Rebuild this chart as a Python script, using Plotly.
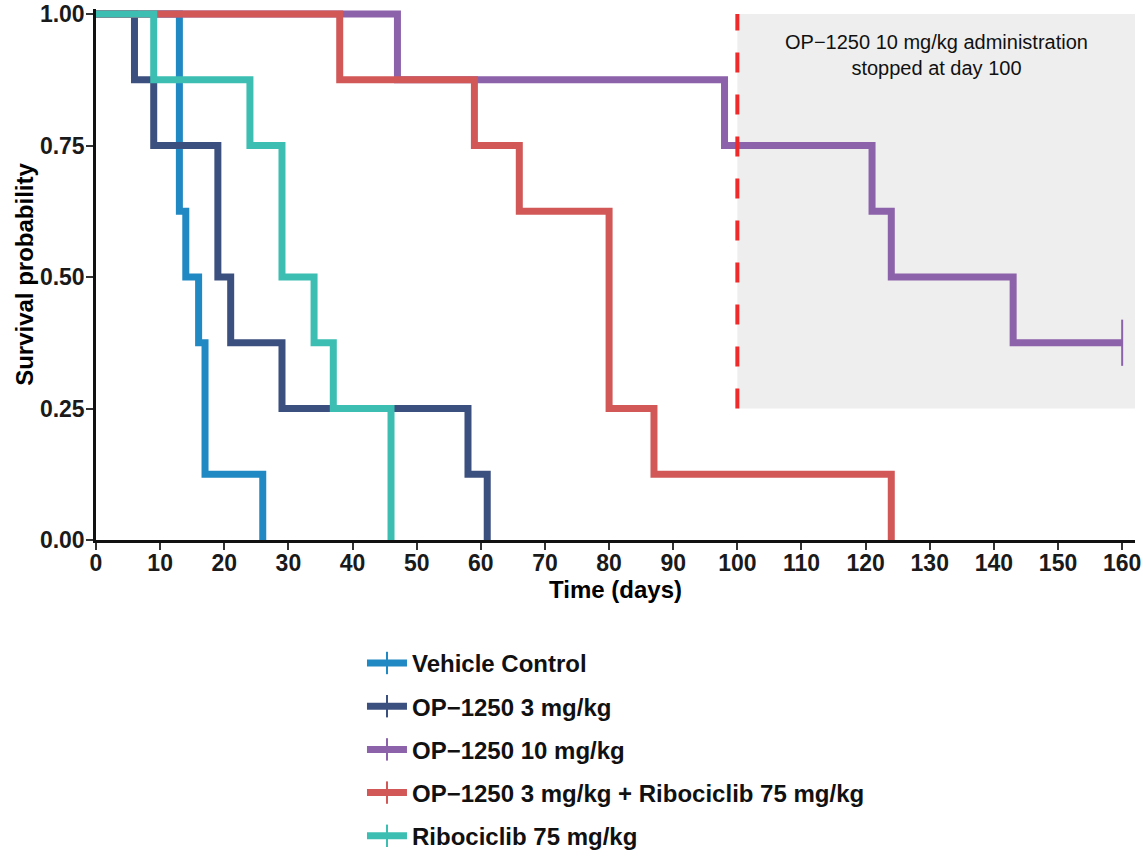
import plotly.graph_objects as go

# ---- data ----
group_names = [
    "Vehicle Control",
    "OP\u22121250 3 mg/kg",
    "OP\u22121250 10 mg/kg",
    "OP\u22121250 3 mg/kg + Ribociclib 75 mg/kg",
    "Ribociclib 75 mg/kg",
]
vehicle_days = [0, 13, 14, 16, 17, 26]
vehicle_surv = [1.0, 0.625, 0.5, 0.375, 0.125, 0.0]

op3_days = [0, 6, 9, 19, 21, 29, 58, 61]
op3_surv = [1.0, 0.875, 0.75, 0.5, 0.375, 0.25, 0.125, 0.0]

op10_days = [0, 47, 98, 121, 124, 143, 160]
op10_surv = [1.0, 0.875, 0.75, 0.625, 0.5, 0.375, 0.375]

combo_days = [0, 38, 59, 66, 80, 87, 124]
combo_surv = [1.0, 0.875, 0.75, 0.625, 0.25, 0.125, 0.0]

ribo_days = [0, 9, 24, 29, 34, 37, 46]
ribo_surv = [1.0, 0.875, 0.75, 0.5, 0.375, 0.25, 0.0]

# censored observations (tick marks)
op10_censor_days = [160]
op10_censor_surv = [0.375]

colors = ["#2088c2", "#3c507f", "#8c62aa", "#d25858", "#3cbfb2"]

stop_day = 100
x_ticks = list(range(0, 161, 10))
y_ticks = [0.0, 0.25, 0.5, 0.75, 1.0]
y_tick_text = ["0.00", "0.25", "0.50", "0.75", "1.00"]
note_text = "OP\u22121250 10 mg/kg administration<br>stopped at day 100"

series = [
    (vehicle_days, vehicle_surv),
    (op3_days, op3_surv),
    (op10_days, op10_surv),
    (combo_days, combo_surv),
    (ribo_days, ribo_surv),
]

FONT = "Liberation Sans, Arial, Helvetica, sans-serif"

fig = go.Figure()

for i, ((xs, ys), name, col) in enumerate(zip(series, group_names, colors)):
    fig.add_trace(go.Scatter(
        x=xs, y=ys, mode="lines", line=dict(color=col, width=7, shape="hv"),
        name=name, legendgroup=f"g{i}", showlegend=False, hoverinfo="x+y+name",
    ))

# censor marks
fig.add_trace(go.Scatter(
    x=op10_censor_days, y=op10_censor_surv, mode="markers",
    marker=dict(symbol="line-ns", size=33, color=colors[2],
                line=dict(color=colors[2], width=2)),
    showlegend=False, legendgroup="g2", cliponaxis=False,
))

# legend entries (line + censor tick)
for i, (name, col) in enumerate(zip(group_names, colors)):
    fig.add_trace(go.Scatter(
        x=[None], y=[None], mode="lines+markers", name=name,
        legendgroup=f"g{i}",
        line=dict(color=col, width=7),
        marker=dict(symbol="line-ns", size=16, color=col,
                    line=dict(color=col, width=2)),
    ))

# grey region and stop line
fig.add_shape(type="rect", xref="x", yref="y", x0=stop_day, x1=162, y0=0.25, y1=1.0,
              fillcolor="#eeeeee", line=dict(width=0), layer="below")
fig.add_shape(type="line", xref="x", yref="y", x0=stop_day, x1=stop_day, y0=0.25, y1=1.0,
              line=dict(color="#ee2a2a", width=4, dash="20px,22px"), layer="above")

fig.add_annotation(x=131, y=0.922, xref="x", yref="y", text=note_text, showarrow=False,
                   font=dict(family=FONT, size=20, color="#111111"), align="center")

fig.update_layout(
    width=1143, height=860,
    margin=dict(l=96, r=8, t=9, b=320, autoexpand=False),
    paper_bgcolor="white", plot_bgcolor="white",
    font=dict(family=FONT, color="#111111"),
    showlegend=True,
    legend=dict(
        x=0.256, y=-0.19, xanchor="left", yanchor="top",
        orientation="v", traceorder="grouped", tracegroupgap=9,
        font=dict(family=FONT, size=24, color="#111111", weight="bold"),
        bgcolor="rgba(0,0,0,0)", itemwidth=40,
    ),
    xaxis=dict(
        range=[0, 162], tickmode="array", tickvals=x_ticks, automargin=False,
        showline=True, linecolor="#111111", linewidth=2.5, mirror=False,
        ticks="outside", ticklen=7, tickwidth=2, tickcolor="#333333",
        showgrid=False, zeroline=False, ticklabeloverflow="allow",
        ticklabelstandoff=-6,
        tickfont=dict(family=FONT, size=23, color="#1a1a1a", weight="bold"),
        title=dict(text="Time (days)", standoff=3,
                   font=dict(family=FONT, size=24, color="#000000", weight="bold")),
    ),
    yaxis=dict(
        range=[0, 1.0095], tickmode="array", tickvals=y_ticks, ticktext=y_tick_text,
        automargin=False, ticklabeloverflow="allow", ticklabelstandoff=-3,
        showline=True, linecolor="#111111", linewidth=2.5,
        ticks="outside", ticklen=7, tickwidth=2, tickcolor="#333333",
        showgrid=False, zeroline=False,
        tickfont=dict(family=FONT, size=23, color="#1a1a1a", weight="bold"),
        title=dict(text="Survival probability", standoff=0,
                   font=dict(family=FONT, size=24, color="#000000", weight="bold")),
    ),
)

# remove the default 8px page margin so the figure sits at the window's corner
fig.write_html("out.html", config={"displayModeBar": False},
               post_script="document.body.style.margin='0';")
